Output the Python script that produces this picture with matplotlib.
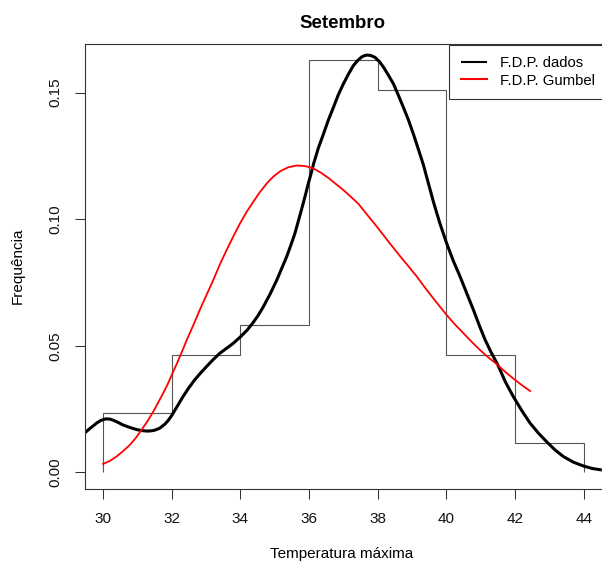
import matplotlib
matplotlib.use("Agg")
import matplotlib.pyplot as plt
import numpy as np

plt.rcParams['font.family'] = ['Liberation Sans', 'DejaVu Sans']

# Histogram (relative frequency density)
bin_edges = [30, 32, 34, 36, 38, 40, 42, 44]
counts = [2, 4, 5, 14, 13, 4, 1]

kde_x = [29.47, 29.60, 29.71, 29.82, 29.94, 30.08, 30.20, 30.33, 30.45, 30.58,
         30.72, 30.85, 31.00, 31.12, 31.25, 31.36, 31.50, 31.65, 31.80, 31.90,
         32.00, 32.15, 32.33, 32.50, 32.67, 32.84, 33.01, 33.20, 33.40, 33.60,
         33.79, 34.01, 34.20, 34.37, 34.52, 34.67, 34.87, 35.06, 35.20, 35.35,
         35.47, 35.59, 35.70, 35.81, 35.90, 35.98, 36.06, 36.13, 36.27, 36.42,
         36.56, 36.71, 36.85, 37.00, 37.15, 37.29, 37.42, 37.54, 37.62, 37.70,
         37.80, 37.92, 38.05, 38.17, 38.31, 38.46, 38.60, 38.75, 38.90, 39.04,
         39.18, 39.33, 39.47, 39.62, 39.80, 40.01, 40.20, 40.40, 40.60, 40.79,
         40.96, 41.13, 41.30, 41.50, 41.72, 41.95, 42.20, 42.44, 42.68, 42.92,
         43.16, 43.41, 43.70, 43.99, 44.25, 44.53]
kde_y = [0.0156, 0.0171, 0.0183, 0.0195, 0.0205, 0.0211, 0.0210, 0.0204, 0.0196, 0.0187,
         0.0180, 0.0174, 0.0168, 0.0165, 0.0163, 0.0163, 0.0166, 0.0174, 0.0190, 0.0205,
         0.0224, 0.0258, 0.0299, 0.0334, 0.0365, 0.0392, 0.0417, 0.0444, 0.0470, 0.0490,
         0.0509, 0.0536, 0.0562, 0.0591, 0.0620, 0.0654, 0.0705, 0.0759, 0.0804, 0.0852,
         0.0897, 0.0944, 0.0998, 0.1052, 0.1098, 0.1141, 0.1180, 0.1217, 0.1280, 0.1336,
         0.1390, 0.1441, 0.1490, 0.1534, 0.1573, 0.1606, 0.1627, 0.1641, 0.1646, 0.1648,
         0.1646, 0.1639, 0.1622, 0.1600, 0.1569, 0.1534, 0.1490, 0.1441, 0.1390, 0.1336,
         0.1278, 0.1215, 0.1145, 0.1070, 0.0988, 0.0904, 0.0836, 0.0773, 0.0705, 0.0641,
         0.0580, 0.0523, 0.0475, 0.0424, 0.0357, 0.0299, 0.0243, 0.0194, 0.0155, 0.0121,
         0.0089, 0.0062, 0.0040, 0.0025, 0.0015, 0.0009]

# Gumbel density curve
gum_x = [30.00, 30.20, 30.39, 30.58, 30.78, 30.95, 31.12, 31.30, 31.46, 31.60,
         31.75, 31.88, 32.00, 32.14, 32.28, 32.44, 32.62, 32.83, 33.02, 33.21,
         33.40, 33.60, 33.80, 33.99, 34.18, 34.38, 34.57, 34.77, 34.96, 35.16,
         35.40, 35.66, 35.90, 36.13, 36.35, 36.57, 36.78, 37.00, 37.22, 37.44,
         37.72, 38.00, 38.32, 38.65, 38.90, 39.14, 39.38, 39.62, 39.82, 40.01,
         40.25, 40.50, 40.74, 40.98, 41.22, 41.47, 41.72, 41.97, 42.20, 42.44]
gum_y = [0.0033, 0.0045, 0.0062, 0.0083, 0.0108, 0.0135, 0.0167, 0.0203, 0.0239, 0.0274,
         0.0312, 0.0347, 0.0384, 0.0426, 0.0470, 0.0523, 0.0578, 0.0645, 0.0702, 0.0759,
         0.0820, 0.0878, 0.0933, 0.0983, 0.1028, 0.1069, 0.1107, 0.1141, 0.1168, 0.1189,
         0.1205, 0.1212, 0.1209, 0.1200, 0.1183, 0.1162, 0.1139, 0.1115, 0.1088, 0.1060,
         0.1013, 0.0966, 0.0910, 0.0854, 0.0813, 0.0773, 0.0729, 0.0687, 0.0653, 0.0621,
         0.0584, 0.0549, 0.0515, 0.0483, 0.0454, 0.0427, 0.0396, 0.0368, 0.0344, 0.0321]

x_ticks = [30, 32, 34, 36, 38, 40, 42, 44]
y_ticks = [0.00, 0.05, 0.10, 0.15]
y_tick_labels = ["0.00", "0.05", "0.10", "0.15"]

W, H = 602, 567
fig = plt.figure(figsize=(W / 100, H / 100), dpi=100)
ax = fig.add_axes([84.5 / W, 78 / H, 533.5 / W, 445 / H])

total = sum(counts)
widths = np.diff(bin_edges)
dens = np.array(counts) / (total * widths)
ax.stairs(dens, bin_edges, fill=False, color='#555555', linewidth=0.8, baseline=0)

ax.plot(kde_x, kde_y, color='black', linewidth=2.2, solid_joinstyle='round',
        solid_capstyle='butt', label='F.D.P. dados')
ax.plot(gum_x, gum_y, color='red', linewidth=1.3, solid_joinstyle='round',
        label='F.D.P. Gumbel')

ax.set_xlim(29.46, 45.0)
ax.set_ylim(-0.0066, 0.16916)
ax.set_xticks(x_ticks)
ax.set_xticklabels([str(t) for t in x_ticks])
ax.set_yticks(y_ticks)
ax.set_yticklabels(y_tick_labels, rotation=90, va='center')
ax.tick_params(axis='both', length=6.9, width=0.75, color='#333333', labelsize=11, labelcolor='#111111')
ax.tick_params(axis='x', pad=10.0)
ax.tick_params(axis='y', pad=9.0)
for s in ax.spines.values():
    s.set_color('#333333')
    s.set_linewidth(0.8)

fig.text(342.7 / W, 1 - 28.3 / H, 'Setembro', ha='center', va='baseline',
         fontsize=13.4, fontweight='bold')
fig.text(342 / W, 1 - 554 / H, 'Temperatura máxima', ha='center', va='center', fontsize=11)
fig.text(18 / W, 1 - 266 / H, 'Frequência', ha='center', va='center', rotation=90, fontsize=11)

leg = ax.legend(loc='upper left', bbox_to_anchor=(449 / W, 1 - 44.5 / H - 0.01, 180 / W, 0.01),
                bbox_transform=fig.transFigure, mode='expand', borderaxespad=0,
                fontsize=10.7, handlelength=1.8, handletextpad=0.83,
                labelspacing=0.24, borderpad=0.78, fancybox=False, framealpha=1)
leg.get_frame().set_edgecolor('#333333')
leg.get_frame().set_linewidth(0.8)
for line in leg.get_lines():
    line.set_linewidth(1.5)

fig.savefig('out.png', dpi=100)
